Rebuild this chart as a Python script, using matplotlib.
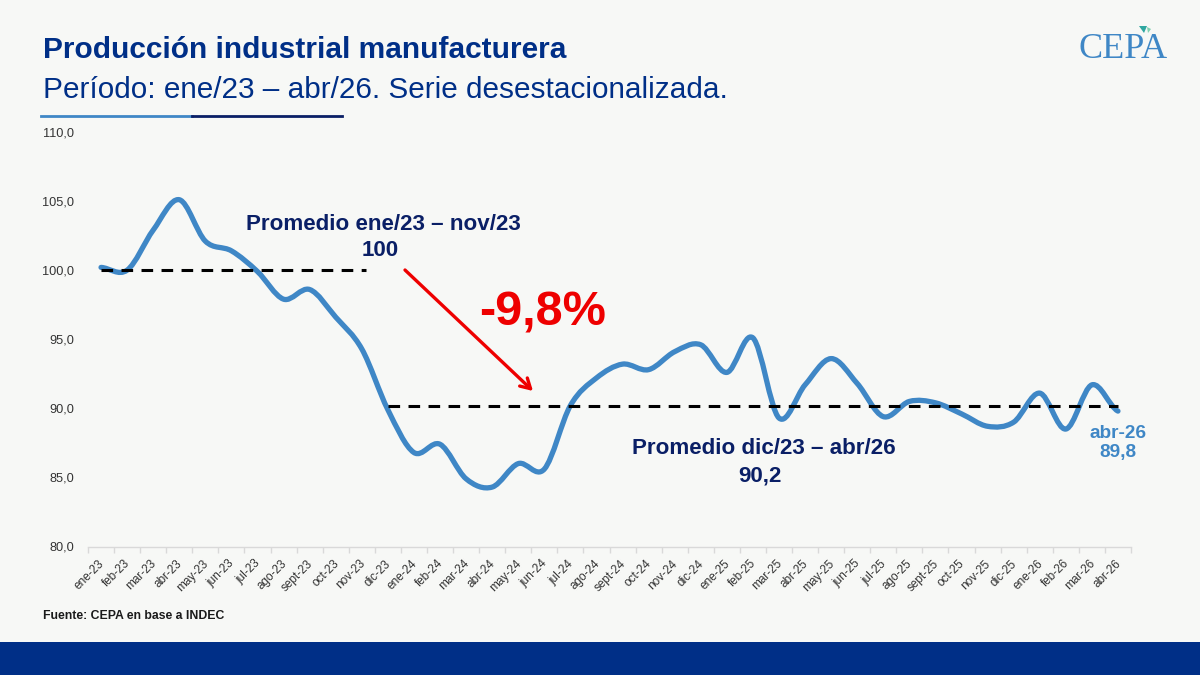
import numpy as np
import matplotlib
matplotlib.use("Agg")
import matplotlib.pyplot as plt
from matplotlib.path import Path
from matplotlib.patches import PathPatch, Rectangle, Polygon
from matplotlib.lines import Line2D
from matplotlib.transforms import ScaledTranslation

plt.rcParams['font.family'] = ['Liberation Sans', 'DejaVu Sans']

months = ['ene', 'feb', 'mar', 'abr', 'may', 'jun', 'jul', 'ago', 'sept', 'oct', 'nov', 'dic']
categories = [f'{months[i % 12]}-{23 + i // 12}' for i in range(40)]
values = [100.2, 100.0, 102.9, 105.1, 102.1, 101.4, 99.9, 97.9, 98.6, 96.6,
          94.3, 89.9, 86.8, 87.4, 84.9, 84.3, 86.0, 85.6, 90.2, 92.2,
          93.2, 92.8, 94.1, 94.6, 92.6, 95.1, 89.3, 91.7, 93.6, 91.8,
          89.4, 90.5, 90.4, 89.6, 88.7, 89.0, 91.1, 88.5, 91.7, 89.8]
avg_first = 100.0
avg_second = 90.2
yticks = [80, 85, 90, 95, 100, 105, 110]

BG = '#F7F8F6'
NAVY = '#002F87'
DARK = '#0A1F66'
BLUE = '#3F87C6'
W, H = 1200, 675

fig = plt.figure(figsize=(12, 6.75), dpi=100, facecolor=BG)
ax = fig.add_axes([88 / W, 1 - 546.5 / H, (1131 - 88) / W, (546.5 - 132) / H], facecolor='none')

x = np.arange(len(values))
y = np.array(values)

# Excel-style smoothed line: Catmull-Rom segments through the data points
verts, codes = [(x[0], y[0])], [Path.MOVETO]
for i in range(len(x) - 1):
    p0 = y[max(i - 1, 0)]
    p3 = y[min(i + 2, len(y) - 1)]
    verts += [(x[i] + 1 / 3, y[i] + (y[i + 1] - p0) / 6),
              (x[i + 1] - 1 / 3, y[i + 1] - (p3 - y[i]) / 6),
              (x[i + 1], y[i + 1])]
    codes += [Path.CURVE4] * 3
ax.add_patch(PathPatch(Path(verts, codes), fill=False, edgecolor=BLUE, lw=3.8,
                       capstyle='round', joinstyle='round', zorder=2))

ax.plot([0, 10.15], [avg_first] * 2, color='black', lw=2.2, dashes=(3.8, 2.75), zorder=3)
ax.plot([11, 39], [avg_second] * 2, color='black', lw=2.2, dashes=(3.8, 2.75), zorder=3)

ax.set_xlim(-0.5, len(values) - 0.5)
ax.set_ylim(80, 110)
ax.set_yticks(yticks)
ax.set_yticklabels([f'{v:.1f}'.replace('.', ',') for v in yticks], fontsize=9.2, color='#333333')
ax.tick_params(axis='y', length=0, pad=10)
ax.set_xticks(x)
ax.set_xticklabels(categories, rotation=45, ha='right', va='top', rotation_mode='anchor',
                   fontsize=8.5, color='#333333')
ax.tick_params(axis='x', which='major', length=0, pad=8)
shift = ScaledTranslation(-3 / 100, 0, fig.dpi_scale_trans)
for lab in ax.get_xticklabels():
    lab.set_transform(lab.get_transform() + shift)
ax.set_xticks(np.arange(len(values) + 1) - 0.5, minor=True)
ax.tick_params(axis='x', which='minor', length=4, width=1, color='#D9D9D9')
for s in ['top', 'left', 'right']:
    ax.spines[s].set_visible(False)
ax.spines['bottom'].set_color('#D9D9D9')
ax.spines['bottom'].set_linewidth(1)


def px(xp, yp):
    return xp / W, 1 - yp / H


def ftext(xp, yp, s, **kw):
    fig.text(*px(xp, yp), s, **kw)


ftext(43, 50, 'Producción industrial manufacturera', fontsize=21.5, fontweight='bold',
      color=NAVY, va='center', ha='left')
ftext(43, 90, 'Período: ene/23 – abr/26. Serie desestacionalizada.', fontsize=21.4,
      color=NAVY, va='center', ha='left')
fig.add_artist(Line2D([41 / W, 192 / W], [1 - 116 / H] * 2, color='#3F87C6', lw=2))
fig.add_artist(Line2D([192 / W, 342 / W], [1 - 116 / H] * 2, color=DARK, lw=2))

ftext(383, 224, 'Promedio ene/23 – nov/23', fontsize=16.1, fontweight='bold', color=DARK, ha='center', va='center')
ftext(380, 251, '100', fontsize=16.1, fontweight='bold', color=DARK, ha='center', va='center')
ftext(764, 449, 'Promedio dic/23 – abr/26', fontsize=16.1, fontweight='bold', color=DARK, ha='center', va='center')
ftext(760, 476, '90,2', fontsize=16.1, fontweight='bold', color=DARK, ha='center', va='center')
ftext(543, 313, '-9,8%', fontsize=35, fontweight='bold', color='#EE0000', ha='center', va='center')
ftext(1118, 433, 'abr-26', fontsize=13.7, fontweight='bold', color=BLUE, ha='center', va='center')
ftext(1118, 453, '89,8', fontsize=13.7, fontweight='bold', color=BLUE, ha='center', va='center')
ftext(43, 616, 'Fuente: CEPA en base a INDEC', fontsize=8.8, fontweight='bold', color='#1A1A1A', ha='left', va='center')

# red arrow
ax.annotate('', xy=px(533, 391), xytext=px(405, 270), xycoords='figure fraction',
            textcoords='figure fraction',
            arrowprops=dict(arrowstyle='->,head_length=0.7,head_width=0.4', color='#EE0000', lw=2.4,
                            shrinkA=0, shrinkB=0))

# bottom band
fig.add_artist(Rectangle((0, 0), 1, 33 / H, transform=fig.transFigure, facecolor=NAVY, edgecolor='none'))

# logo
ftext(1123, 49, 'CEPA', fontsize=26, family=['Liberation Serif'], color='#3F87C6', ha='center', va='center')
fig.add_artist(Polygon([px(1139, 26), px(1147, 26), px(1144, 33)], closed=True,
                       transform=fig.transFigure, facecolor='#2FA7A0', edgecolor='none'))
fig.add_artist(Polygon([px(1147, 27), px(1151, 29), px(1148, 33)], closed=True,
                       transform=fig.transFigure, facecolor='#7FD0B0', edgecolor='none'))

fig.savefig('out.png', dpi=100, facecolor=BG)
